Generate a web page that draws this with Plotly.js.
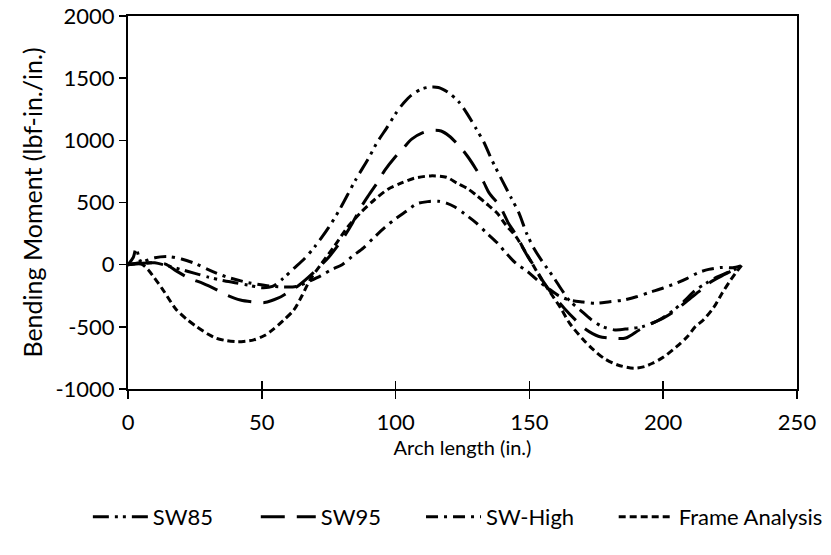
<!DOCTYPE html>
<html>
<head>
<meta charset="utf-8">
<script src="https://cdn.plot.ly/plotly-3.0.1.min.js"></script>
<style>html,body{margin:0;padding:0;background:#fff;}#chart{width:831px;height:555px;}</style>
</head>
<body>
<div id="chart"></div>
<script>
// ---- data ----
const sw85X = [0,2,3,5,10,15,20,25,30,35,40,45,50,54,58,62,66,70,75,79,85,90,93,97,100,103,106,110,113,116,120,124,127,130,133,136,140,143,146,149,152,155,159,162,165,169,173,177,182,187,192,197,201,204,208,212,216,220,225,229];
const sw85Y = [0,60,130,20,15,-10,-40,-70,-100,-125,-145,-165,-185,-175,-110,-30,50,150,300,440,680,860,980,1110,1215,1300,1365,1415,1428,1425,1380,1300,1205,1097,985,840,670,545,420,250,120,20,-100,-200,-290,-365,-440,-495,-525,-515,-500,-460,-410,-365,-290,-205,-150,-100,-55,-15];

const sw95X = [0,5,10,14,18,23,28,33,37,42,47,51,56,60,64,69,75,80,84,87,90,93,96,100,103,106,110,114,117,120,124,127,130,133,135,139,142,145,149,152,155,159,163,167,171,176,181,186,191,196,200,204,209,214,217,221,225,229];
const sw95Y = [0,10,15,5,-50,-110,-150,-200,-245,-284,-300,-305,-270,-220,-163,-70,60,200,340,460,560,655,760,870,940,1010,1060,1080,1075,1035,950,868,770,660,575,470,340,240,80,-20,-130,-250,-350,-440,-520,-578,-592,-590,-525,-470,-430,-378,-290,-205,-150,-100,-56,-15];

const swHighX = [0,5,10,15,20,25,30,37,45,52,58,63,68,72,76,80,84,88,92,96,100,104,108,112,116,119,122,126,130,134,138,141,145,149,153,157,161,165,170,175,180,185,190,195,200,205,209,213,217,222,226,229];
const swHighY = [0,20,55,65,45,10,-40,-100,-145,-170,-180,-175,-130,-90,-40,0,70,135,220,300,370,430,490,507,510,495,466,405,338,255,175,100,10,-50,-125,-190,-250,-285,-300,-310,-298,-285,-258,-222,-188,-148,-110,-65,-38,-22,-25,-10];

const frameX = [0,5,7.6,10,13,18,22,25.6,30,33,37,41,44,47,51,54,58,62,65,68,72,77,82,87,92,97,102,107,113,119,123,127,130,134,138,141,145,148,151,154,158,162,165,170,174,178,183,189,193,196,200,205,209,212,215,219,222,225,227,229.5];
const frameY = [0,5,-43,-110,-200,-360,-440,-498,-560,-592,-612,-620,-615,-605,-570,-525,-450,-364,-250,-123,0,145,300,420,520,605,655,695,714,703,655,610,561,490,413,325,225,120,11,-100,-230,-360,-471,-600,-686,-755,-807,-833,-820,-793,-745,-660,-580,-498,-445,-340,-230,-130,-69,0];

const seriesNames = ['SW85','SW95','SW-High','Frame Analysis'];
const xTickVals = [0,50,100,150,200,250];
const xTickText = ['0','50','100','150','200','250'];
const yTickVals = [-1000,-500,0,500,1000,1500,2000];
const yTickText = ['-1000','-500','0','500','1000','1500','2000'];
const xTitle = 'Arch length (in.)';
const yTitle = 'Bending Moment (lbf-in./in.)';

const FONT = 'Lato, "Open Sans", sans-serif';
const dashes = [
  '16px,6px,3px,5px,3px,6px',
  '24px,12px',
  '12px,6px,3px,6px',
  '7px,4px'
];
const legendIds = ['legend', 'legend2', 'legend3', 'legend4'];
const legendX = [-0.06, 0.191, 0.438, 0.726];
const xs = [sw85X, sw95X, swHighX, frameX];
const ys = [sw85Y, sw95Y, swHighY, frameY];

const traces = seriesNames.map((n, i) => ({
  type: 'scatter', mode: 'lines', name: n,
  x: xs[i], y: ys[i], legend: legendIds[i],
  line: {color: '#000', width: 3, dash: dashes[i], shape: 'spline', smoothing: 0.8},
  xaxis: 'x', yaxis: 'y'
}));
traces.push({type:'scatter', mode:'lines', x:[0,250], y:[0,0], xaxis:'x2', yaxis:'y',
  line:{width:0}, showlegend:false, hoverinfo:'skip'});

const layout = {
  width: 831, height: 555,
  margin: {l: 128, r: 34, t: 16, b: 166, autoexpand: false},
  paper_bgcolor: '#fff', plot_bgcolor: '#fff',
  font: {family: FONT, color: '#000', size: 19},
  showlegend: true,
  xaxis: {
    range: [0, 250], tickmode: 'array', tickvals: xTickVals, ticktext: xTickText,
    showgrid: false, zeroline: false,
    showline: true, linecolor: '#000', linewidth: 2, mirror: true,
    ticks: 'outside', ticklen: 8, tickwidth: 1.5, tickcolor: '#000',
    tickfont: {family: FONT, size: 22, color: '#000'},
    ticklabelstandoff: 5,
    title: {text: xTitle, font: {family: FONT, size: 20, color: '#000'}, standoff: 0}
  },
  xaxis2: {
    overlaying: 'x', anchor: 'y', side: 'bottom', matches: 'x',
    range: [0, 250], tickmode: 'array', tickvals: xTickVals,
    showgrid: false, zeroline: false, showline: false,
    ticks: 'inside', ticklen: 8, tickwidth: 1.5, tickcolor: '#000',
    showticklabels: false
  },
  yaxis: {
    range: [-1000, 2000], tickmode: 'array', tickvals: yTickVals, ticktext: yTickText,
    showgrid: false, zeroline: false,
    showline: true, linecolor: '#000', linewidth: 2, mirror: true,
    ticks: 'outside', ticklen: 7, tickwidth: 1.5, tickcolor: '#000',
    tickfont: {family: FONT, size: 22, color: '#000'},
    title: {text: yTitle, font: {family: FONT, size: 25, color: '#000'}, standoff: 6}
  }
};
legendIds.forEach((id, i) => {
  layout[id] = {orientation: 'h', x: legendX[i], xanchor: 'left', y: -0.343, yanchor: 'middle',
    font: {family: FONT, size: 22, color: '#000'}, itemwidth: 55,
    bgcolor: 'rgba(0,0,0,0)', borderwidth: 0};
});

Plotly.newPlot('chart', traces, layout, {displayModeBar: false, staticPlot: true});
</script>
</body>
</html>
